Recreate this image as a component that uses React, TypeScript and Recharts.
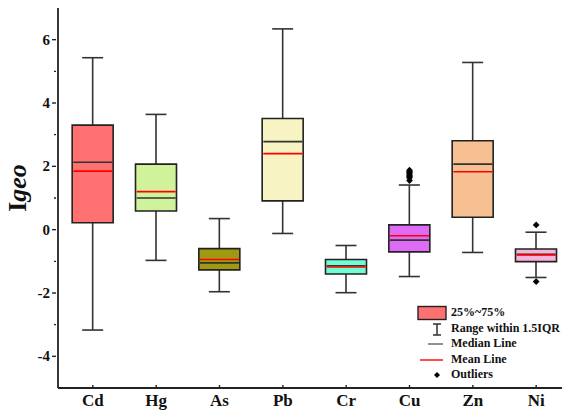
import React from "react";
import {
  ComposedChart,
  Bar,
  Cell,
  Scatter,
  XAxis,
  YAxis,
} from "recharts";

const METALS = ["Cd", "Hg", "As", "Pb", "Cr", "Cu", "Zn", "Ni"];
const WHISKER_LOW = [-3.17, -0.97, -1.96, -0.12, -1.99, -1.48, -0.72, -1.51];
const Q1 = [0.22, 0.59, -1.27, 0.91, -1.4, -0.7, 0.39, -1.01];
const MEDIAN = [2.13, 1.0, -1.05, 2.78, -1.14, -0.33, 2.07, -0.78];
const MEAN = [1.85, 1.2, -0.94, 2.4, -1.18, -0.19, 1.83, -0.8];
const Q3 = [3.3, 2.07, -0.6, 3.51, -0.94, 0.15, 2.81, -0.61];
const WHISKER_HIGH = [5.43, 3.64, 0.35, 6.34, -0.5, 1.41, 5.28, -0.08];
const BOX_COLORS = [
  "#FF7070",
  "#CFF29A",
  "#A09A10",
  "#F7F3C3",
  "#72FCD3",
  "#DD6BF5",
  "#F6C092",
  "#F8B4D8",
];
const CU_OUTLIERS = [1.88, 1.84, 1.8, 1.76, 1.72, 1.68, 1.64, 1.55];
const NI_OUTLIERS = [0.15, -1.64];
const Y_TICKS = [-4, -3, -2, -1, 0, 1, 2, 3, 4, 5, 6];

const rows = METALS.map((name, i) => ({
  x: i + 1,
  name,
  whisker: [WHISKER_LOW[i], WHISKER_HIGH[i]],
  box: [Q1[i], Q3[i]],
  median: MEDIAN[i],
  mean: MEAN[i],
}));

const outliers = [
  ...CU_OUTLIERS.map((y) => ({ x: 6, y })),
  ...NI_OUTLIERS.map((y) => ({ x: 8, y })),
];

const FONT = "'Liberation Serif', 'Times New Roman', serif";
const INK = "#222";
const BOX_W = 41;
const CAP_W = 21;
const X_DOMAIN = [0.45, 8.55];

const Whisker = (props: any) => {
  const { x, y, width, height } = props;
  const cx = x + width / 2;
  const top = Math.min(y, y + height);
  const bottom = Math.max(y, y + height);
  return (
    <g stroke="#333" strokeWidth={1.6}>
      <line x1={cx} x2={cx} y1={top} y2={bottom} />
      <line x1={cx - CAP_W / 2} x2={cx + CAP_W / 2} y1={top} y2={top} />
      <line x1={cx - CAP_W / 2} x2={cx + CAP_W / 2} y1={bottom} y2={bottom} />
    </g>
  );
};

const hLine = (color: string) => (props: any) => {
  const { cx, cy } = props;
  return (
    <line
      x1={cx - BOX_W / 2 + 1}
      x2={cx + BOX_W / 2 - 1}
      y1={cy}
      y2={cy}
      stroke={color}
      strokeWidth={1.6}
    />
  );
};

const Diamond = (props: any) => {
  const { cx, cy } = props;
  const r = 3.4;
  return (
    <path
      d={`M${cx},${cy - r}L${cx + r},${cy}L${cx},${cy + r}L${cx - r},${cy}Z`}
      fill="#000"
    />
  );
};

const YTick = (props: any) => {
  const { x, y, payload } = props;
  const major = payload.value % 2 === 0;
  return (
    <g>
      <line
        x1={x + (major ? 2 : 4)}
        x2={x + 6}
        y1={y}
        y2={y}
        stroke={INK}
        strokeWidth={1.4}
      />
      {major && (
        <text
          x={x}
          y={y + 5}
          textAnchor="end"
          fontFamily={FONT}
          fontWeight="bold"
          fontSize={15}
          fill="#111"
        >
          {payload.value}
        </text>
      )}
    </g>
  );
};

const XTick = (props: any) => {
  const { x, payload } = props;
  return (
    <g>
      <line x1={x} x2={x} y1={388} y2={385} stroke={INK} strokeWidth={1.4} />
      <text
        x={x}
        y={406}
        textAnchor="middle"
        fontFamily={FONT}
        fontWeight="bold"
        fontSize={17}
        fill="#111"
      >
        {METALS[payload.value - 1]}
      </text>
    </g>
  );
};

const YLabel = () => (
  <text
    transform="translate(26,188) rotate(-90)"
    textAnchor="middle"
    fontFamily={FONT}
    fontWeight="bold"
    fontSize={26}
    fill="#111"
  >
    <tspan>I</tspan>
    <tspan fontStyle="italic">geo</tspan>
  </text>
);

const legendRow: React.CSSProperties = {
  height: 15.5,
  lineHeight: "15.5px",
  whiteSpace: "nowrap",
};

function BoxLegend() {
  return (
    <div
      style={{
        position: "absolute",
        left: 416,
        top: 305,
        fontFamily: FONT,
        fontWeight: "bold",
        fontSize: 12,
        color: "#111",
      }}
    >
      {[
        {
          label: "25%~75%",
          icon: (
            <rect x={2} y={1.5} width={28} height={13} fill="#FF7070" stroke={INK} strokeWidth={1.4} />
          ),
        },
        {
          label: "Range within 1.5IQR",
          icon: (
            <g stroke={INK} strokeWidth={1.4}>
              <line x1={21} x2={21} y1={3} y2={14} />
              <line x1={17} x2={25} y1={3} y2={3} />
              <line x1={17} x2={25} y1={14} y2={14} />
            </g>
          ),
        },
        {
          label: "Median Line",
          icon: <line x1={12} x2={27} y1={8} y2={8} stroke={INK} strokeWidth={1} />,
        },
        {
          label: "Mean Line",
          icon: <line x1={4} x2={27} y1={8} y2={8} stroke="#f00" strokeWidth={1.4} />,
        },
        {
          label: "Outliers",
          icon: <path d="M21,5L24,8L21,11L18,8Z" fill="#000" />,
        },
      ].map((r) => (
        <div key={r.label} style={{ ...legendRow, display: "flex", alignItems: "center" }}>
          <svg width={35} height={15.5} style={{ flexShrink: 0 }}>
            {r.icon}
          </svg>
          <span>{r.label}</span>
        </div>
      ))}
    </div>
  );
}

export default function App() {
  return (
    <div
      style={{
        position: "fixed",
        left: 0,
        top: 0,
        width: 562,
        height: 412,
        overflow: "hidden",
        background: "#fff",
      }}
    >
      <ComposedChart
        width={600}
        height={412}
        data={rows}
        margin={{ top: 8, right: 29, bottom: 0, left: 0 }}
      >
        <XAxis
          xAxisId="main"
          type="number"
          dataKey="x"
          domain={X_DOMAIN}
          allowDataOverflow
          ticks={[1, 2, 3, 4, 5, 6, 7, 8]}
          tick={<XTick />}
          tickLine={false}
          axisLine={{ stroke: INK, strokeWidth: 1.8 }}
          height={24}
        />
        <XAxis
          xAxisId="whisker"
          type="number"
          dataKey="x"
          domain={X_DOMAIN}
          allowDataOverflow
          hide
        />
        <XAxis
          xAxisId="top"
          orientation="top"
          type="number"
          dataKey="x"
          domain={X_DOMAIN}
          allowDataOverflow
          tick={false}
          tickLine={false}
          axisLine={{ stroke: INK, strokeWidth: 1.8 }}
          height={0}
        />
        <YAxis
          type="number"
          domain={[-5, 7]}
          allowDataOverflow
          ticks={Y_TICKS}
          interval={0}
          tick={<YTick />}
          tickLine={false}
          tickSize={6}
          axisLine={{ stroke: INK, strokeWidth: 1.8 }}
          width={58}
          label={{ content: () => <YLabel /> }}
        />
        <Bar
          xAxisId="whisker"
          dataKey="whisker"
          barSize={BOX_W}
          shape={<Whisker />}
          isAnimationActive={false}
        />
        <Bar
          xAxisId="main"
          dataKey="box"
          barSize={BOX_W}
          stroke={INK}
          strokeWidth={1.6}
          isAnimationActive={false}
        >
          {rows.map((r, i) => (
            <Cell key={r.name} fill={BOX_COLORS[i]} />
          ))}
        </Bar>
        <Scatter
          xAxisId="main"
          data={rows}
          dataKey="median"
          shape={hLine("#333")}
          isAnimationActive={false}
        />
        <Scatter
          xAxisId="main"
          data={rows}
          dataKey="mean"
          shape={hLine("#f00")}
          isAnimationActive={false}
        />
        <Scatter
          xAxisId="main"
          data={outliers}
          dataKey="y"
          shape={<Diamond />}
          isAnimationActive={false}
        />
      </ComposedChart>
      <BoxLegend />
    </div>
  );
}
